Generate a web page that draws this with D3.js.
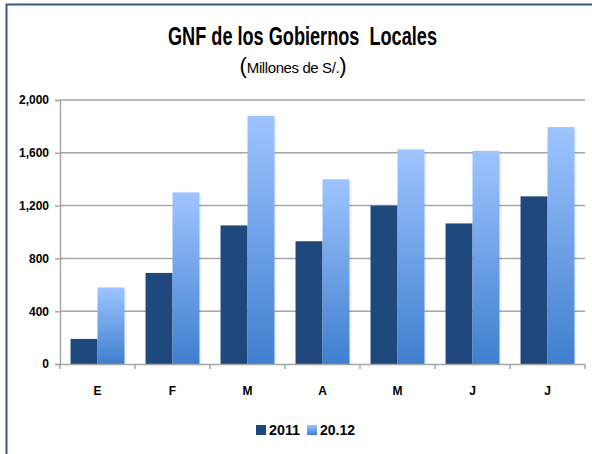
<!DOCTYPE html>
<html>
<head>
<meta charset="utf-8">
<script src="https://cdn.jsdelivr.net/npm/d3@7"></script>
<style>
  body { margin: 0; background: #fff; }
  text { font-family: "Liberation Sans", Arial, sans-serif; }
</style>
</head>
<body>
<svg id="chart" width="592" height="454"></svg>
<script>
const months = ["E", "F", "M", "A", "M", "J", "J"];
const series = ["2011", "20.12"];
const values2011 = [190, 690, 1050, 930, 1200, 1065, 1270];
const values2012 = [580, 1300, 1880, 1400, 1625, 1615, 1795];
const yTicks = [0, 400, 800, 1200, 1600, 2000];

let svg = d3.select("#chart");
let plot = { left: 60, right: 585, top: 100, bottom: 364 };

// frame
svg.append("path")
  .attr("d", "M6.5,454 L6.5,4.5 L592,4.5")
  .style("fill", "none")
  .style("stroke", "#3D5A80")
  .style("stroke-width", 2);

let defs = svg.append("defs");
let grad = defs.append("linearGradient")
  .attr("id", "lightGrad")
  .attr("x1", 0).attr("y1", 0).attr("x2", 0).attr("y2", 1);
grad.append("stop").attr("offset", "0%").attr("stop-color", "#9EC4FF");
grad.append("stop").attr("offset", "100%").attr("stop-color", "#3E7FCF");

let xScale = d3.scaleBand()
  .domain(d3.range(months.length))
  .range([plot.left, plot.right]);

let x1 = d3.scaleBand()
  .domain(series)
  .range([0, xScale.bandwidth()])
  .paddingOuter(0.39);

let yScale = d3.scaleLinear()
  .domain([0, 2000])
  .range([plot.bottom, plot.top]);

// gridlines
svg.selectAll(".grid")
  .data(yTicks.slice(1))
  .enter()
  .append("line")
    .attr("x1", plot.left)
    .attr("x2", plot.right)
    .attr("y1", d => yScale(d))
    .attr("y2", d => yScale(d))
    .style("stroke", "#A6A6A6")
    .style("stroke-width", 1.5);

// y axis
let yAxis = svg.append("g")
  .attr("transform", `translate(${plot.left},0)`)
  .call(d3.axisLeft(yScale).tickValues(yTicks).tickSize(5).tickPadding(6).tickFormat(d3.format(",")));
yAxis.select(".domain").style("stroke", "#A6A6A6").style("stroke-width", 1.5);
yAxis.selectAll(".tick line").style("stroke", "#A6A6A6").style("stroke-width", 1.5);
yAxis.selectAll("text")
  .style("font-size", "12px")
  .style("font-weight", "bold")
  .style("fill", "#000");

// bars
let rows = months.map((m, i) => ({ i: i, "2011": values2011[i], "20.12": values2012[i] }));
let groups = svg.selectAll(".grp")
  .data(rows)
  .enter()
  .append("g")
    .attr("transform", d => `translate(${xScale(d.i)},0)`);

// faint shadow
groups.selectAll(".shadow")
  .data(d => series.map(s => ({ s: s, v: d[s] })))
  .enter()
  .append("rect")
    .attr("x", d => x1(d.s) + 2)
    .attr("y", d => yScale(d.v) + 2)
    .attr("width", x1.bandwidth())
    .attr("height", d => plot.bottom - yScale(d.v) - 2)
    .style("fill", "#000")
    .style("opacity", 0.06);

groups.selectAll(".bar")
  .data(d => series.map(s => ({ s: s, v: d[s] })))
  .enter()
  .append("rect")
    .attr("x", d => x1(d.s))
    .attr("y", d => yScale(d.v))
    .attr("width", x1.bandwidth())
    .attr("height", d => plot.bottom - yScale(d.v))
    .style("fill", d => d.s === "2011" ? "#1F497D" : "url(#lightGrad)");

// x axis
let xAxis = svg.append("g")
  .attr("transform", `translate(0,${plot.bottom})`)
  .call(d3.axisBottom(xScale).tickSize(0).tickPadding(22).tickFormat(i => months[i]));
xAxis.select(".domain").style("stroke", "#A6A6A6").style("stroke-width", 1.5);
xAxis.selectAll("text")
  .style("font-size", "12px")
  .style("font-weight", "bold")
  .style("fill", "#000");
svg.selectAll(".xtick")
  .data(d3.range(months.length + 1))
  .enter()
  .append("line")
    .attr("x1", i => plot.left + i * xScale.step())
    .attr("x2", i => plot.left + i * xScale.step())
    .attr("y1", plot.bottom)
    .attr("y2", plot.bottom + 5)
    .style("stroke", "#A6A6A6")
    .style("stroke-width", 1.5);

// title (narrow font squeezed to match width)
svg.append("text")
  .attr("x", 168)
  .attr("y", 45)
  .attr("textLength", 269)
  .attr("lengthAdjust", "spacingAndGlyphs")
  .style("font-size", "25px")
  .style("font-weight", "bold")
  .style("white-space", "pre")
  .text("GNF de los Gobiernos  Locales");
// subtitle: parens larger than the words
let sub = svg.append("text")
  .attr("x", 293).attr("y", 73)
  .attr("text-anchor", "middle");
sub.append("tspan").style("font-size", "22px").text("(");
sub.append("tspan").style("font-size", "15px").style("letter-spacing", "-0.4px").text("Millones de S/.");
sub.append("tspan").style("font-size", "22px").text(")");

// legend
let legend = svg.append("g").attr("transform", "translate(256,425)");
series.forEach((s, i) => {
  let g = legend.append("g").attr("transform", `translate(${i * 51},0)`);
  g.append("rect")
    .attr("width", 10).attr("height", 10)
    .style("fill", s === "2011" ? "#1F497D" : "url(#lightGrad)");
  g.append("text")
    .attr("x", 13).attr("y", 10)
    .attr("textLength", s === "2011" ? 31 : 35)
    .attr("lengthAdjust", "spacingAndGlyphs")
    .style("font-size", "14px")
    .style("font-weight", "bold")
    .text(s);
});
</script>
</body>
</html>
